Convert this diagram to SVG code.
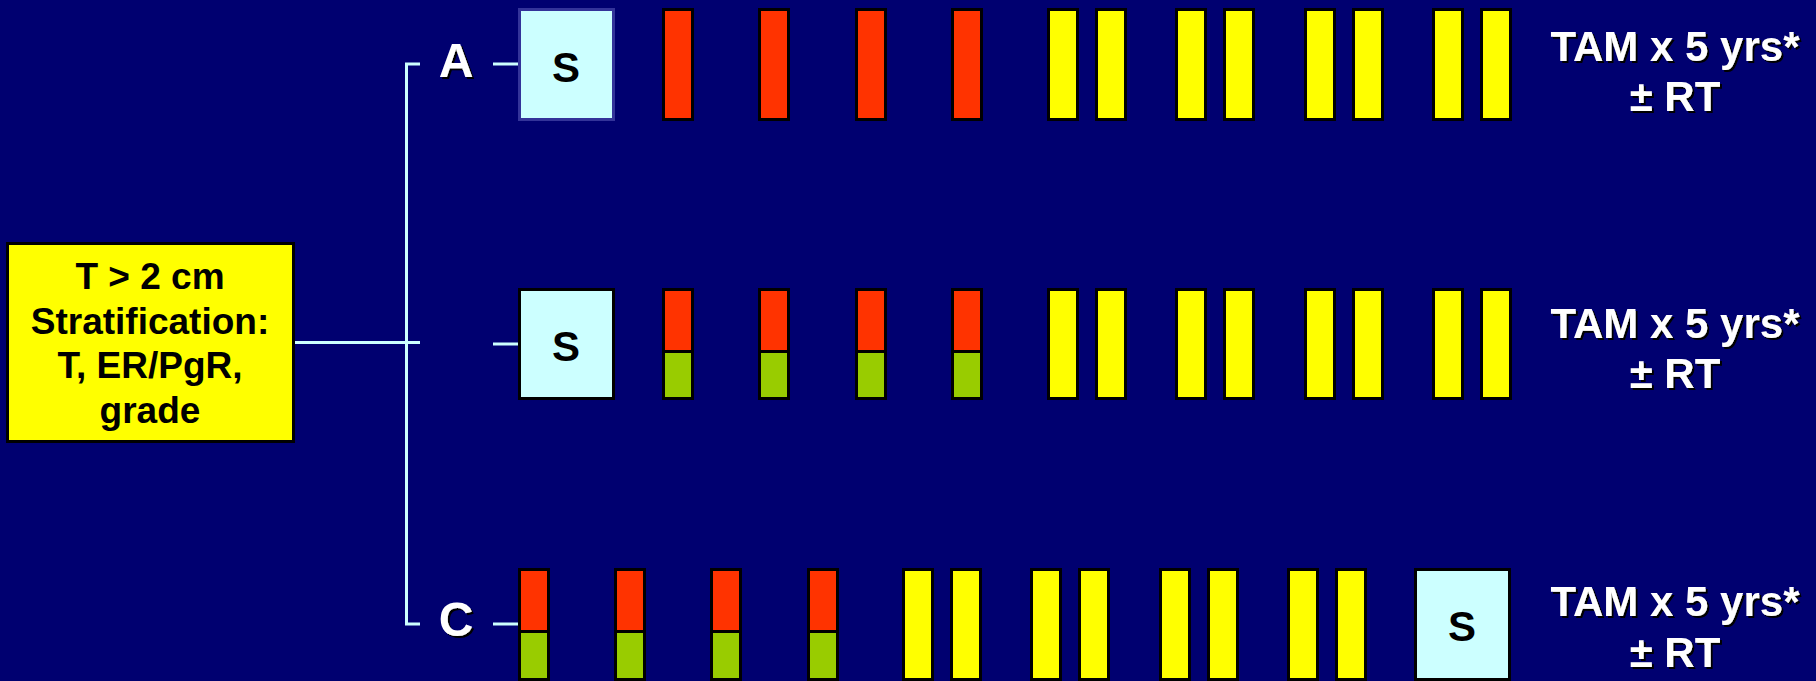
<svg xmlns="http://www.w3.org/2000/svg" width="1816" height="681" viewBox="0 0 1816 681">
<defs>
<filter id="sh" x="-10%" y="-10%" width="130%" height="130%">
<feDropShadow dx="2" dy="2" stdDeviation="0.3" flood-color="#000000" flood-opacity="1"/>
</filter>
</defs>
<style>
.bg{fill:#000070}
.ln{stroke:#ccffff;stroke-width:3;fill:none}
.red{fill:#ff3300;stroke:#000;stroke-width:3}
.grn{fill:#99cc00;stroke:#000;stroke-width:3}
.yel{fill:#ffff00;stroke:#000;stroke-width:3}
.sbox{fill:#ccffff;stroke:#000;stroke-width:3}
.sboxa{fill:#ccffff;stroke:#333399;stroke-width:3}
.src{fill:#ffff00;stroke:#000;stroke-width:3}
.t{font-family:"Liberation Sans",Arial,sans-serif;font-weight:bold;text-anchor:middle}
.srct{font-size:37px;fill:#000}
.st{font-size:42px;fill:#000}
.lab{font-size:48px;fill:#fff;filter:url(#sh)}
.tam{font-size:42px;fill:#fff;filter:url(#sh)}
</style>
<rect class="bg" x="0" y="0" width="1816" height="681"/>

<g id="connectors">
<path class="ln" d="M294,342.5 H420"/>
<path class="ln" d="M420,64 H406.5 V624 H420"/>
<path class="ln" d="M493,64 H518"/>
<path class="ln" d="M493,344 H518"/>
<path class="ln" d="M493,624 H518"/>
</g>

<g id="source">
<rect class="src" x="7.5" y="243.5" width="286" height="198"/>
<text class="t srct" x="150" y="289">T &gt; 2 cm</text>
<text class="t srct" x="150" y="334">Stratification:</text>
<text class="t srct" x="150" y="378">T, ER/PgR,</text>
<text class="t srct" x="150" y="423">grade</text>
</g>

<g id="labelA"><text class="t lab" x="456" y="77">A</text></g>
<g id="labelC"><text class="t lab" x="456" y="636">C</text></g>

<!-- Row A -->
<g id="A-S"><rect class="sboxa" x="519.5" y="9.5" width="94" height="110"/><text class="t st" x="566" y="82">S</text></g>
<g id="A-r1"><rect class="red" x="663.5" y="9.5" width="29" height="110"/></g>
<g id="A-r2"><rect class="red" x="759.5" y="9.5" width="29" height="110"/></g>
<g id="A-r3"><rect class="red" x="856.5" y="9.5" width="29" height="110"/></g>
<g id="A-r4"><rect class="red" x="952.5" y="9.5" width="29" height="110"/></g>
<g id="A-y1"><rect class="yel" x="1048.5" y="9.5" width="29" height="110"/></g>
<g id="A-y2"><rect class="yel" x="1096.5" y="9.5" width="29" height="110"/></g>
<g id="A-y3"><rect class="yel" x="1176.5" y="9.5" width="29" height="110"/></g>
<g id="A-y4"><rect class="yel" x="1224.5" y="9.5" width="29" height="110"/></g>
<g id="A-y5"><rect class="yel" x="1305.5" y="9.5" width="29" height="110"/></g>
<g id="A-y6"><rect class="yel" x="1353.5" y="9.5" width="29" height="110"/></g>
<g id="A-y7"><rect class="yel" x="1433.5" y="9.5" width="29" height="110"/></g>
<g id="A-y8"><rect class="yel" x="1481.5" y="9.5" width="29" height="110"/></g>
<g id="A-tam"><text class="t tam" x="1675" y="61">TAM x 5 yrs*</text><text class="t tam" x="1675" y="111">± RT</text></g>

<!-- Row B -->
<g id="B-S"><rect class="sbox" x="519.5" y="289.5" width="94" height="109"/><text class="t st" x="566" y="361">S</text></g>
<g id="B-b1"><rect class="grn" x="663.5" y="289.5" width="29" height="109"/><rect class="red" x="663.5" y="289.5" width="29" height="62"/></g>
<g id="B-b2"><rect class="grn" x="759.5" y="289.5" width="29" height="109"/><rect class="red" x="759.5" y="289.5" width="29" height="62"/></g>
<g id="B-b3"><rect class="grn" x="856.5" y="289.5" width="29" height="109"/><rect class="red" x="856.5" y="289.5" width="29" height="62"/></g>
<g id="B-b4"><rect class="grn" x="952.5" y="289.5" width="29" height="109"/><rect class="red" x="952.5" y="289.5" width="29" height="62"/></g>
<g id="B-y1"><rect class="yel" x="1048.5" y="289.5" width="29" height="109"/></g>
<g id="B-y2"><rect class="yel" x="1096.5" y="289.5" width="29" height="109"/></g>
<g id="B-y3"><rect class="yel" x="1176.5" y="289.5" width="29" height="109"/></g>
<g id="B-y4"><rect class="yel" x="1224.5" y="289.5" width="29" height="109"/></g>
<g id="B-y5"><rect class="yel" x="1305.5" y="289.5" width="29" height="109"/></g>
<g id="B-y6"><rect class="yel" x="1353.5" y="289.5" width="29" height="109"/></g>
<g id="B-y7"><rect class="yel" x="1433.5" y="289.5" width="29" height="109"/></g>
<g id="B-y8"><rect class="yel" x="1481.5" y="289.5" width="29" height="109"/></g>
<g id="B-tam"><text class="t tam" x="1675" y="338">TAM x 5 yrs*</text><text class="t tam" x="1675" y="388">± RT</text></g>

<!-- Row C -->
<g id="C-b1"><rect class="grn" x="519.5" y="569.5" width="29" height="110"/><rect class="red" x="519.5" y="569.5" width="29" height="62"/></g>
<g id="C-b2"><rect class="grn" x="615.5" y="569.5" width="29" height="110"/><rect class="red" x="615.5" y="569.5" width="29" height="62"/></g>
<g id="C-b3"><rect class="grn" x="711.5" y="569.5" width="29" height="110"/><rect class="red" x="711.5" y="569.5" width="29" height="62"/></g>
<g id="C-b4"><rect class="grn" x="808.5" y="569.5" width="29" height="110"/><rect class="red" x="808.5" y="569.5" width="29" height="62"/></g>
<g id="C-y1"><rect class="yel" x="903.5" y="569.5" width="29" height="110"/></g>
<g id="C-y2"><rect class="yel" x="951.5" y="569.5" width="29" height="110"/></g>
<g id="C-y3"><rect class="yel" x="1031.5" y="569.5" width="29" height="110"/></g>
<g id="C-y4"><rect class="yel" x="1079.5" y="569.5" width="29" height="110"/></g>
<g id="C-y5"><rect class="yel" x="1160.5" y="569.5" width="29" height="110"/></g>
<g id="C-y6"><rect class="yel" x="1208.5" y="569.5" width="29" height="110"/></g>
<g id="C-y7"><rect class="yel" x="1288.5" y="569.5" width="29" height="110"/></g>
<g id="C-y8"><rect class="yel" x="1336.5" y="569.5" width="29" height="110"/></g>
<g id="C-S"><rect class="sbox" x="1415.5" y="569.5" width="94" height="110"/><text class="t st" x="1462" y="641">S</text></g>
<g id="C-tam"><text class="t tam" x="1675" y="616">TAM x 5 yrs*</text><text class="t tam" x="1675" y="667">± RT</text></g>
</svg>
